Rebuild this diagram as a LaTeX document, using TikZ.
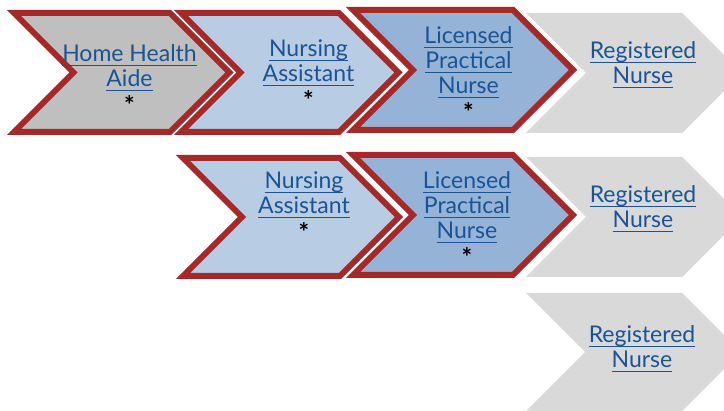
\documentclass[tikz,border=0pt]{standalone}
\usepackage{fontspec}
\setmainfont{Lato}
\newcommand\ulin[1]{\leavevmode\setbox0=\hbox{#1}\rlap{\raisebox{-4pt}{\rule{\wd0}{1.3pt}}}\box0}
\newcommand\astk{\textcolor{black}{\bfseries\fontsize{25}{25}\selectfont *}}
\definecolor{bred}{RGB}{166,41,41}
\definecolor{hhafill}{RGB}{191,191,191}
\definecolor{nafill}{RGB}{184,204,228}
\definecolor{lpnfill}{RGB}{149,179,215}
\definecolor{rnfill}{RGB}{217,217,217}
\definecolor{linkblue}{RGB}{24,84,150}
\newcommand\chev[5]{%
  \path[#1] (#2,#3) -- ({#2+#5},#3) -- ({#2+#5+(#4-#3)/2},{(#3+#4)/2}) -- ({#2+#5},#4) -- (#2,#4) -- ({#2+(#4-#3)/2},{(#3+#4)/2}) -- cycle;}
\tikzset{
  bordered/.style={draw=bred, line width=6pt, line join=miter},
  hha/.style={bordered, fill=hhafill},
  na/.style={bordered, fill=nafill},
  lpn/.style={bordered, fill=lpnfill},
  rn/.style={fill=rnfill},
  lbl/.style={text=linkblue, align=center, anchor=base, inner sep=0pt,
    font=\fontsize{23}{25}\selectfont},
}
\begin{document}
\begin{tikzpicture}[x=1pt,y=-1pt]
\useasboundingbox (0,0) rectangle (724,411);
\clip (0,0) rectangle (724,411);
% row 1
\chev{hha}{14}{13}{132}{156}
\chev{na}{181}{13}{132}{158}
\chev{lpn}{353}{10}{130}{160}
\chev{rn}{526}{13}{133}{156}
% row 2
\chev{na}{183}{158}{276}{157}
\chev{lpn}{353}{155}{275}{160}
\chev{rn}{526}{157}{277}{156}
% row 3
\chev{rn}{526}{293}{411}{156}
% labels (anchor = baseline of last line)
\node[lbl] (hhaT) at (129.5,115) {\ulin{Home Health}\\\ulin{Aide}\\[3pt]\astk};
\node[lbl] (na1T) at (308.5,110) {\ulin{Nursing}\\\ulin{Assistant}\\[3pt]\astk};
\node[lbl] (lpn1T) at (468.5,122) {\ulin{Licensed}\\\ulin{Practical}\\\ulin{Nurse}\\[3pt]\astk};
\node[lbl] (rn1T) at (643,84) {\ulin{Registered}\\\ulin{Nurse}};
\node[lbl] (na2T) at (304,242) {\ulin{Nursing}\\\ulin{Assistant}\\[3pt]\astk};
\node[lbl] (lpn2T) at (467,267) {\ulin{Licensed}\\\ulin{Practical}\\\ulin{Nurse}\\[3pt]\astk};
\node[lbl] (rn2T) at (643,228) {\ulin{Registered}\\\ulin{Nurse}};
\node[lbl] (rn3T) at (642,368) {\ulin{Registered}\\\ulin{Nurse}};
\end{tikzpicture}
\end{document}
